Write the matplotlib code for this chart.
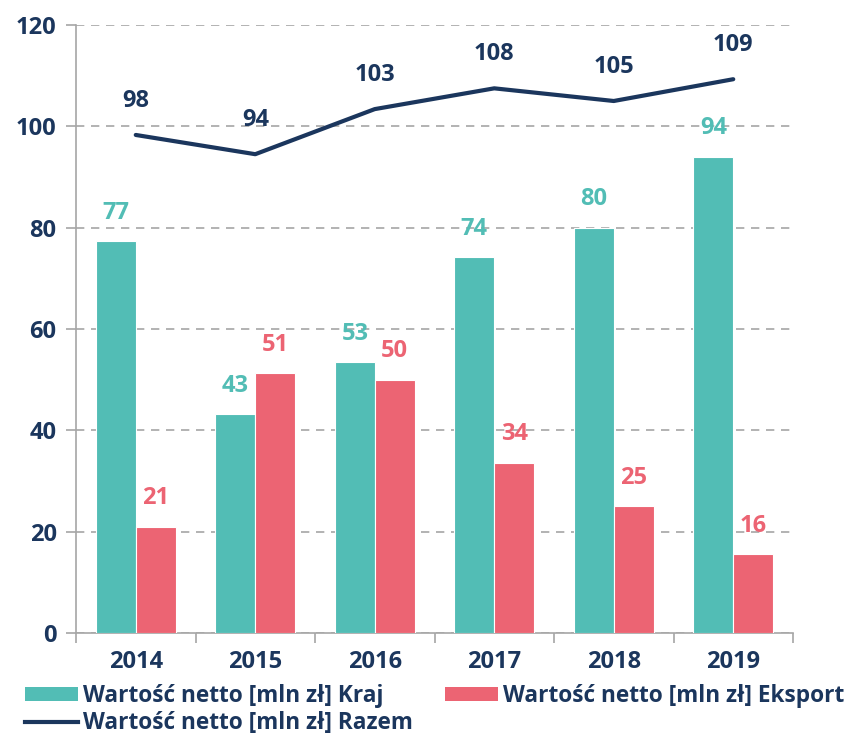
import matplotlib
matplotlib.use("Agg")
import matplotlib.pyplot as plt
from matplotlib.patches import Patch
from matplotlib.lines import Line2D
import numpy as np

years = ["2014", "2015", "2016", "2017", "2018", "2019"]
kraj = [77.3, 43.2, 53.4, 74.2, 80.0, 94.0]
eksport = [21.0, 51.3, 50.0, 33.6, 25.0, 15.5]
razem = [98.3, 94.5, 103.4, 107.5, 105.0, 109.3]
kraj_labels = ["77", "43", "53", "74", "80", "94"]
eksport_labels = ["21", "51", "50", "34", "25", "16"]
razem_labels = ["98", "94", "103", "108", "105", "109"]
legend_labels = ["Wartość netto [mln zł] Kraj", "Wartość netto [mln zł] Eksport",
                 "Wartość netto [mln zł] Razem"]

TEAL = "#52BDB5"
PINK = "#EC6473"
NAVY = "#1B365D"
GRAY = "#A6A6A6"

plt.rcParams['font.family'] = ['Open Sans', 'DejaVu Sans']

fig = plt.figure(figsize=(8.55, 7.35), dpi=100)
ax = fig.add_axes([76/855, 1-633/735, (793-76)/855, (633-25)/735])

x = np.arange(len(years))
w = 1/3
ax.bar(x - w/2, kraj, width=w, color=TEAL, edgecolor="white", linewidth=0.8, zorder=3)
ax.bar(x + w/2, eksport, width=w, color=PINK, edgecolor="white", linewidth=0.8, zorder=3)
ax.plot(x, razem, color=NAVY, lw=3, zorder=4, solid_capstyle='round')

FS = 17
for i in range(len(years)):
    ax.annotate(kraj_labels[i], (x[i] - w/2, kraj[i]), xytext=(0, 20.5), textcoords="offset points",
                ha="center", va="center", color=TEAL, fontsize=FS, fontweight="bold")
    ax.annotate(eksport_labels[i], (x[i] + w/2, eksport[i]), xytext=(0, 20.5), textcoords="offset points",
                ha="center", va="center", color=PINK, fontsize=FS, fontweight="bold")
    ax.annotate(razem_labels[i], (x[i], razem[i]), xytext=(0, 24.5), textcoords="offset points",
                ha="center", va="center", color=NAVY, fontsize=FS, fontweight="bold")

ax.set_xlim(-0.5, len(years) - 0.5)
ax.set_ylim(0, 120)
ax.set_yticks(range(0, 121, 20))
ax.set_yticklabels([str(v) for v in range(0, 121, 20)], fontsize=FS, fontweight="bold", color=NAVY)
ax.yaxis.grid(True, color=GRAY, linestyle=(0, (5, 4)), linewidth=1.2, zorder=0)
ax.tick_params(axis="y", length=7, color=GRAY, width=1.2, pad=7)

ax.set_xticks(x)
ax.set_xticklabels(years, fontsize=FS, fontweight="bold", color=NAVY)
ax.set_xticks(np.arange(-0.5, len(years), 1), minor=True)
ax.tick_params(axis="x", which="major", length=0, pad=12)
ax.tick_params(axis="x", which="minor", length=7, color=GRAY, width=1.2)

for s in ["top", "right"]:
    ax.spines[s].set_visible(False)
for s in ["left", "bottom"]:
    ax.spines[s].set_color(GRAY)
    ax.spines[s].set_linewidth(1.2)

LFS = 16.3
handles = [Patch(facecolor=TEAL), Line2D([], [], color=NAVY, lw=3), Patch(facecolor=PINK)]
labels = [legend_labels[0], legend_labels[2], legend_labels[1]]
leg = fig.legend(handles, labels, loc="upper left", bbox_to_anchor=(25/855, 1-684/735),
                 ncol=2, frameon=False, fontsize=LFS, handlelength=2.35, handleheight=0.6,
                 handletextpad=0.22, columnspacing=1.4, labelspacing=0.15, borderpad=0,
                 borderaxespad=0)
for t in leg.get_texts():
    t.set_color(NAVY)
    t.set_fontweight("bold")

fig.savefig("out.png", dpi=100)
